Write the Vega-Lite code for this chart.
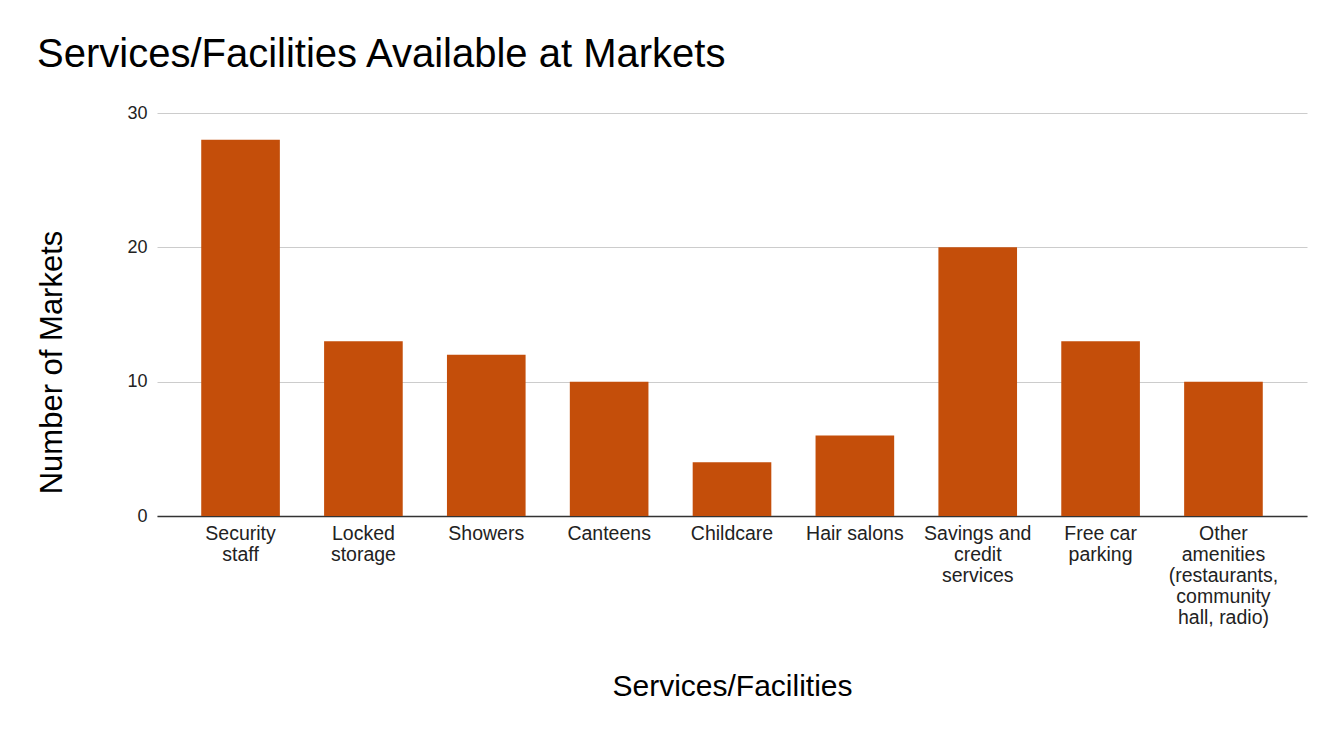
{
  "$schema": "https://vega.github.io/schema/vega-lite/v6.json",
  "autosize": "none",
  "width": 1150,
  "height": 403,
  "padding": {"left": 157, "top": 113, "right": 32, "bottom": 217},
  "background": "white",
  "title": {
    "text": "Services/Facilities Available at Markets",
    "anchor": "start",
    "frame": "group",
    "dx": -120,
    "offset": 29,
    "font": "Liberation Sans",
    "fontSize": 40,
    "fontWeight": "normal",
    "color": "#000000"
  },
  "data": {
    "values": [
      {"facility": "Security staff", "markets": 28},
      {"facility": "Locked storage", "markets": 13},
      {"facility": "Showers", "markets": 12},
      {"facility": "Canteens", "markets": 10},
      {"facility": "Childcare", "markets": 4},
      {"facility": "Hair salons", "markets": 6},
      {"facility": "Savings and credit services", "markets": 20},
      {"facility": "Free car parking", "markets": 13},
      {"facility": "Other amenities (restaurants, community hall, radio)", "markets": 10}
    ]
  },
  "mark": {"type": "bar", "color": "#C44E0A"},
  "encoding": {
    "x": {
      "field": "facility",
      "type": "nominal",
      "sort": null,
      "scale": {"paddingInner": 0.36, "paddingOuter": 0.36},
      "axis": {
        "title": "Services/Facilities",
        "titleFont": "Liberation Sans",
        "titleFontSize": 30,
        "titleFontWeight": "normal",
        "titleColor": "#000000",
        "titleBaseline": "middle",
        "titleY": 170,
        "labelAngle": 0,
        "labelFont": "Liberation Sans",
        "labelFontSize": 19.5,
        "labelColor": "#222222",
        "labelLineHeight": 21,
        "labelPadding": 8,
        "labelLimit": 0,
        "ticks": false,
        "domainColor": "#333333",
        "domainWidth": 1.5,
        "labelExpr": "datum.value == 'Security staff' ? ['Security', 'staff'] : datum.value == 'Locked storage' ? ['Locked', 'storage'] : datum.value == 'Savings and credit services' ? ['Savings and', 'credit', 'services'] : datum.value == 'Free car parking' ? ['Free car', 'parking'] : datum.value == 'Other amenities (restaurants, community hall, radio)' ? ['Other', 'amenities', '(restaurants,', 'community', 'hall, radio)'] : datum.value"
      }
    },
    "y": {
      "field": "markets",
      "type": "quantitative",
      "scale": {"domain": [0, 30], "nice": false},
      "axis": {
        "title": "Number of Markets",
        "titleFont": "Liberation Sans",
        "titleFontSize": 31,
        "titleFontWeight": "normal",
        "titleColor": "#000000",
        "titleX": -105,
        "titleY": 249,
        "titleBaseline": "middle",
        "titleAlign": "center",
        "values": [0, 10, 20, 30],
        "labelFont": "Liberation Sans",
        "labelFontSize": 18,
        "labelColor": "#222222",
        "labelPadding": 10,
        "ticks": false,
        "domain": false,
        "grid": true,
        "gridColor": "#cccccc",
        "gridWidth": 1
      }
    }
  },
  "config": {
    "view": {"stroke": null}
  }
}
